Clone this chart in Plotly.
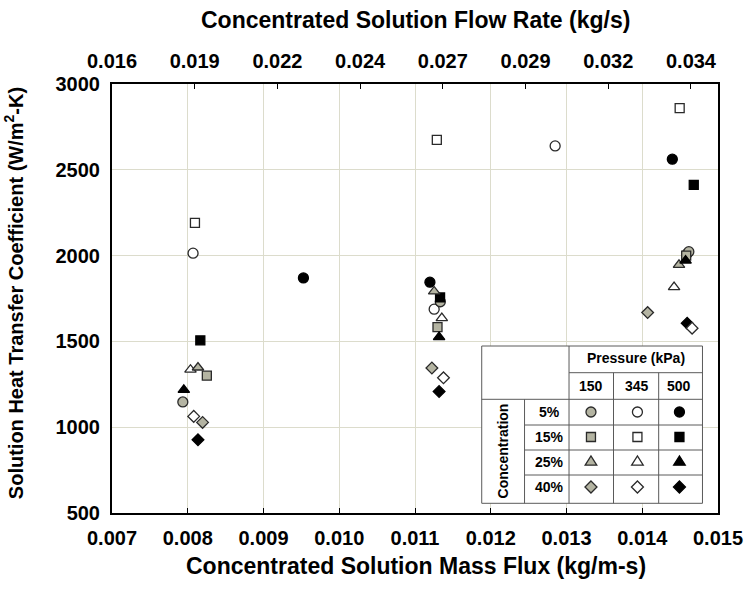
import plotly.graph_objects as go

# ---------------- data ----------------
mass_flux_ticks = [0.007, 0.008, 0.009, 0.010, 0.011, 0.012, 0.013, 0.014, 0.015]
h_ticks = [500, 1000, 1500, 2000, 2500, 3000]
flow_rate_labels = ["0.016", "0.019", "0.022", "0.024", "0.027", "0.029", "0.032", "0.034"]
flow_rate_start = 0.016
flow_rate_end = 0.034
flow_rate_axis_max = 0.03484

pressures = ["150", "345", "500"]
concentrations = ["5%", "15%", "25%", "40%"]

# 5 % concentration
c5_p150_x = [0.007935, 0.011334, 0.014615]
c5_p150_y = [1147, 1731, 2023]
c5_p345_x = [0.008070, 0.011253, 0.012850, 0.014589]
c5_p345_y = [2014, 1688, 2639, 2010]
c5_p500_x = [0.009527, 0.011197, 0.014397]
c5_p500_y = [1870, 1845, 2562]
# 15 %
c15_p150_x = [0.008252, 0.011297, 0.014580]
c15_p150_y = [1300, 1583, 2000]
c15_p345_x = [0.008095, 0.011288, 0.014494]
c15_p345_y = [2191, 2674, 2859]
c15_p500_x = [0.008166, 0.011331, 0.014680]
c15_p500_y = [1506, 1756, 2412]
# 25 %
c25_p150_x = [0.008135, 0.011253, 0.014485]
c25_p150_y = [1348, 1791, 1946]
c25_p345_x = [0.008036, 0.011354, 0.014420]
c25_p345_y = [1335, 1636, 1816]
c25_p500_x = [0.007948, 0.011318, 0.014572]
c25_p500_y = [1218, 1525, 1971]
# 40 %
c40_p150_x = [0.008196, 0.011223, 0.014071]
c40_p150_y = [1028, 1345, 1668]
c40_p345_x = [0.008079, 0.011376, 0.014658]
c40_p345_y = [1063, 1288, 1577]
c40_p500_x = [0.008135, 0.011318, 0.014593]
c40_p500_y = [927, 1208, 1606]

# ---------------- styling ----------------
FONT = "Liberation Sans, Arial, Helvetica, sans-serif"
GRAY = "#b4b4a2"
EDGE = "#2a2a2a"
GRID = "#dcdccc"
TABLE_LINE = "#5a5a5a"
fills = {"150": GRAY, "345": "white", "500": "black"}
symbols = {"5%": "circle", "15%": "square", "25%": "triangle-up", "40%": "diamond"}
sizes = {"5%": 10, "15%": 9, "25%": 10, "40%": 9}

series = {
    ("5%", "345"): (c5_p345_x, c5_p345_y), ("5%", "150"): (c5_p150_x, c5_p150_y), ("5%", "500"): (c5_p500_x, c5_p500_y),
    ("15%", "345"): (c15_p345_x, c15_p345_y), ("15%", "150"): (c15_p150_x, c15_p150_y), ("15%", "500"): (c15_p500_x, c15_p500_y),
    ("25%", "345"): (c25_p345_x, c25_p345_y), ("25%", "150"): (c25_p150_x, c25_p150_y), ("25%", "500"): (c25_p500_x, c25_p500_y),
    ("40%", "500"): (c40_p500_x, c40_p500_y), ("40%", "345"): (c40_p345_x, c40_p345_y), ("40%", "150"): (c40_p150_x, c40_p150_y),
}

def edge(pres):
    return "black" if pres == "500" else EDGE

def marker(conc, pres):
    return dict(symbol=symbols[conc], size=sizes[conc], color=fills[pres],
                line=dict(color=edge(pres), width=1.3))

fig = go.Figure()
for (conc, pres), (xs, ys) in series.items():
    fig.add_trace(go.Scatter(x=xs, y=ys, mode="markers", marker=marker(conc, pres),
                             showlegend=False, hoverinfo="x+y"))

# ---------------- geometry helpers (pixel -> plot-area fraction) ----------------
L, R, T, B = 112, 725, 84, 513
def fx(px):
    return (px - L) / (R - L)
def fy(py):
    return (B - py) / (B - T)

# legend table layout (pixel positions)
tab_x = [486, 529.3, 574.3, 619.3, 665, 709.3]
tab_y = [346, 372.7, 399.3, 425, 450, 475, 503.3]
col_centers = [596.5, 643.5, 686]
row_centers = [412, 437, 462, 487]

shapes = []
shapes.append(dict(type="rect", xref="paper", yref="paper", layer="above",
                   x0=fx(tab_x[0]), x1=fx(tab_x[5]), y0=fy(tab_y[6]), y1=fy(tab_y[0]),
                   fillcolor="white", line=dict(color=TABLE_LINE, width=1)))
def hline(py, x0, x1):
    shapes.append(dict(type="line", xref="paper", yref="paper", layer="above",
                       x0=fx(x0), x1=fx(x1), y0=fy(py), y1=fy(py), line=dict(color=TABLE_LINE, width=1)))
def vline(px, y0, y1):
    shapes.append(dict(type="line", xref="paper", yref="paper", layer="above",
                       x0=fx(px), x1=fx(px), y0=fy(y0), y1=fy(y1), line=dict(color=TABLE_LINE, width=1)))
hline(tab_y[1], tab_x[2], tab_x[5])
hline(tab_y[2], tab_x[0], tab_x[5])
for yy in tab_y[3:6]:
    hline(yy, tab_x[1], tab_x[5])
vline(tab_x[1], tab_y[2], tab_y[6])
vline(tab_x[2], tab_y[0], tab_y[6])
vline(tab_x[3], tab_y[1], tab_y[6])
vline(tab_x[4], tab_y[1], tab_y[6])

# legend symbols drawn as pixel-sized shapes anchored at cell centres
glyph_paths = {
    "triangle-up": "M -5.8,-3.2 L 5.8,-3.2 L 0,6 Z",
    "diamond": "M 0,6 L 6,0 L 0,-6 L -6,0 Z",
}
for ri, conc in enumerate(concentrations):
    for ci, pres in enumerate(pressures):
        sym = symbols[conc]
        base = dict(xref="paper", yref="paper", layer="above", xsizemode="pixel", ysizemode="pixel",
                    xanchor=fx(col_centers[ci]), yanchor=fy(row_centers[ri]),
                    fillcolor=fills[pres], line=dict(color=edge(pres), width=1.3))
        if sym == "circle":
            base.update(type="circle", x0=-5, x1=5, y0=-5, y1=5)
        elif sym == "square":
            base.update(type="rect", x0=-4.5, x1=4.5, y0=-4.5, y1=4.5)
        else:
            base.update(type="path", path=glyph_paths[sym])
        shapes.append(base)

ann = []
def text(px, py, s, size=14, angle=0):
    ann.append(dict(x=fx(px), y=fy(py), xref="paper", yref="paper", text="<b>%s</b>" % s,
                    showarrow=False, textangle=angle, xanchor="center", yanchor="middle",
                    font=dict(family=FONT, size=size, color="black")))
text(641.8, 358, "Pressure (kPa)", 14)
for ci, pres in enumerate(pressures):
    text(col_centers[ci], 385.5, pres, 14)
for ri, conc in enumerate(concentrations):
    text(555, row_centers[ri], conc, 14)
text(507.7, 451.3, "Concentration", 14, -90)

# axis titles
text(420, 566, "Concentrated Solution Mass Flux (kg/m-s)", 23)
text(419, 20, "Concentrated Solution Flow Rate (kg/s)", 23)
text(12, 293, "Solution Heat Transfer Coefficient (W/m<sup>2</sup>-K)", 20, -90)

tickfont = dict(family=FONT, size=20, color="black", weight="bold")
n_top = len(flow_rate_labels)
top_vals = [flow_rate_start + i * (flow_rate_end - flow_rate_start) / (n_top - 1) for i in range(n_top)]

fig.update_layout(
    width=755, height=590,
    margin=dict(l=L, r=755 - R, t=T, b=590 - B, pad=0),
    paper_bgcolor="white", plot_bgcolor="white",
    shapes=shapes, annotations=ann,
    xaxis=dict(range=[mass_flux_ticks[0], mass_flux_ticks[-1]], tickvals=mass_flux_ticks,
               tickformat=".3f", showgrid=True, gridcolor=GRID, gridwidth=1,
               ticks="inside", ticklen=5, tickcolor="black", showline=True, linecolor="black",
               linewidth=2, zeroline=False, tickfont=tickfont, ticklabelstandoff=6),
    xaxis2=dict(range=[flow_rate_start, flow_rate_axis_max], overlaying="x", side="top",
                tickvals=top_vals, ticktext=flow_rate_labels, showgrid=False,
                ticks="inside", ticklen=5, tickcolor="black", showline=True, linecolor="black",
                linewidth=2, zeroline=False, tickfont=tickfont, ticklabelstandoff=6),
    yaxis=dict(range=[h_ticks[0], h_ticks[-1]], tickvals=h_ticks, tickformat="d",
               showgrid=True, gridcolor=GRID, gridwidth=1, ticks="", showline=True,
               linecolor="black", linewidth=2, mirror=True, zeroline=False,
               tickfont=tickfont, ticklabelstandoff=6),
)
# invisible trace so the top axis is drawn
fig.add_trace(go.Scatter(x=[flow_rate_start], y=[h_ticks[0]], xaxis="x2", mode="markers",
                         marker=dict(opacity=0), showlegend=False, hoverinfo="skip"))

fig.write_html("out.html")
